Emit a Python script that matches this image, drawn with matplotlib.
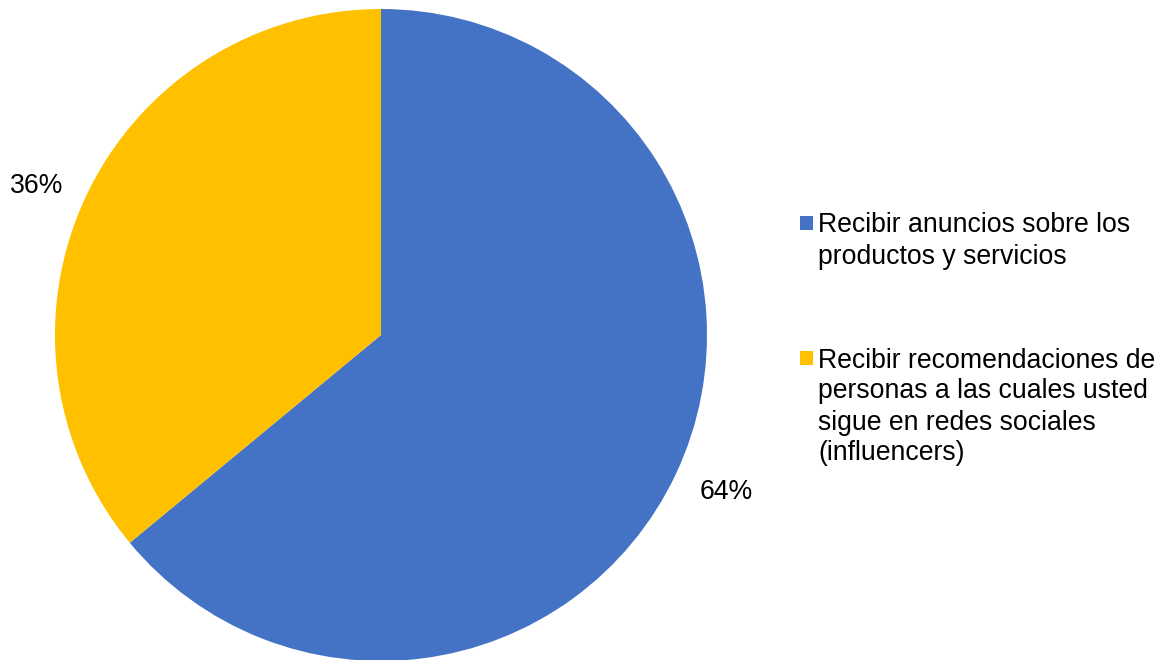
import matplotlib
matplotlib.use("Agg")
import matplotlib.pyplot as plt
from matplotlib.patches import Rectangle
from matplotlib.transforms import offset_copy

plt.rcParams['font.family'] = ['Liberation Sans', 'DejaVu Sans']

categories = [
    "Recibir anuncios sobre los\nproductos y servicios",
    "Recibir recomendaciones de\npersonas a las cuales usted\nsigue en redes sociales\n(influencers)",
]
values = [64, 36]
colors = ["#4472C4", "#FFC000"]

W, H = 1164, 660
FS = 19.2
fig = plt.figure(figsize=(W / 100, H / 100), dpi=100)
fig.patch.set_facecolor("white")

# pie axes: centre (381, 335) px from top, radius 326 px
cx, cy, r = 381, H - 335, 326
ax = fig.add_axes([(cx - r) / W, (cy - r) / H, 2 * r / W, 2 * r / H])
wedges, texts, autotexts = ax.pie(
    values, colors=colors, startangle=90, counterclock=False,
    autopct=lambda p: f"{p:.0f}%", pctdistance=1.16, radius=1,
    textprops=dict(fontsize=FS, color="#000000"),
    wedgeprops=dict(linewidth=0),
)
# nudge the outside-end labels (offsets in points)
nudges = [(2.5, 3.0), (-1.5, -9.0)]
for t, (dx, dy) in zip(autotexts, nudges):
    t.set_transform(offset_copy(ax.transData, fig=fig, x=dx, y=dy, units="points"))

ax.set_xlim(-1, 1)
ax.set_ylim(-1, 1)
ax.set_aspect("equal")
ax.axis("off")


def px(x, y):
    """Pixel position (from top-left) to figure fraction."""
    return x / W, (H - y) / H


# legend drawn line by line, 31 px pitch
first_line_y = [223, 358]
pitch = 31
for label, color, y0 in zip(categories, colors, first_line_y):
    x0, yb = px(800, y0 + 7)
    fig.patches.append(Rectangle((x0, yb), 13 / W, 14 / H,
                                 transform=fig.transFigure, facecolor=color,
                                 edgecolor="none"))
    for i, line in enumerate(label.split("\n")):
        tx, ty = px(818, y0 + i * pitch + 9.5)
        fig.text(tx, ty, line, fontsize=FS, va="baseline", ha="left",
                 color="#000000")

fig.savefig("out.png", dpi=100, facecolor="white")
